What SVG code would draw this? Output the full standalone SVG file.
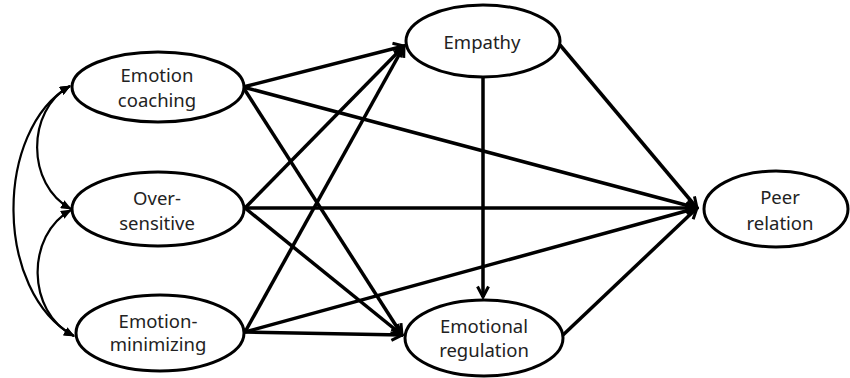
<svg xmlns="http://www.w3.org/2000/svg" width="850" height="378" viewBox="0 0 850 378">
<style>
.node ellipse{fill:#fff;stroke:#000;stroke-width:3}
.node text{font-family:"Noto Sans","Open Sans",sans-serif;font-size:18.5px;fill:#222;text-anchor:middle}
.main{fill:none;stroke:#000;stroke-width:3.5;marker-end:url(#v)}
.cov{fill:none;stroke:#000;stroke-width:2.2;marker-start:url(#tri);marker-end:url(#tri)}
</style>
<defs>
<marker id="v" viewBox="0 0 14 14" markerWidth="14" markerHeight="14" markerUnits="userSpaceOnUse" refX="12" refY="7" orient="auto">
<path d="M1.5,1.5 L12,7 L1.5,12.5" fill="none" stroke="#000" stroke-width="3" stroke-linejoin="miter"/>
</marker>
<marker id="tri" viewBox="0 0 11 9" markerWidth="11" markerHeight="9" markerUnits="userSpaceOnUse" refX="10" refY="4.5" orient="auto-start-reverse">
<path d="M0,0 L11,4.5 L0,9 z" fill="#000"/>
</marker>
</defs>
<rect width="850" height="378" fill="#fff"/>
<g id="connectors">
<path class="cov" d="M70,86 C26,110 26,185 71,209"/>
<path class="cov" d="M71,210 C26,235 26,312 74,336"/>
<path class="cov" d="M70,86 C-6,130 -6,292 74,336"/>
<path class="main" d="M243,87 L404,46"/>
<path class="main" d="M243,87 L697,208"/>
<path class="main" d="M243,87 L402,335"/>
<path class="main" d="M245,208 L404,46"/>
<path class="main" d="M245,208 L697,208"/>
<path class="main" d="M245,208 L402,335"/>
<path class="main" d="M245,332 L404,46"/>
<path class="main" d="M245,332 L697,208"/>
<path class="main" d="M245,332 L402,335"/>
<path class="main" d="M483,77 L483,297"/>
<path class="main" d="M560,45 L697,208"/>
<path class="main" d="M563,335 L697,208"/>
</g>
<g id="emotion-coaching" class="node">
<ellipse cx="158" cy="87" rx="86" ry="35"/>
<text x="157" y="82">Emotion</text>
<text x="157" y="107">coaching</text>
</g>
<g id="over-sensitive" class="node">
<ellipse cx="158" cy="209" rx="86" ry="37"/>
<text x="157" y="205">Over-</text>
<text x="157" y="230">sensitive</text>
</g>
<g id="emotion-minimizing" class="node">
<ellipse cx="160" cy="333" rx="84" ry="38"/>
<text x="158" y="328">Emotion-</text>
<text x="158" y="351">minimizing</text>
</g>
<g id="empathy" class="node">
<ellipse cx="483" cy="41" rx="77" ry="36"/>
<text x="482" y="49">Empathy</text>
</g>
<g id="emotional-regulation" class="node">
<ellipse cx="484" cy="338" rx="79" ry="38"/>
<text x="484" y="333">Emotional</text>
<text x="484" y="357">regulation</text>
</g>
<g id="peer-relation" class="node">
<ellipse cx="776" cy="209" rx="72" ry="38"/>
<text x="780" y="204">Peer</text>
<text x="780" y="230">relation</text>
</g>
</svg>
